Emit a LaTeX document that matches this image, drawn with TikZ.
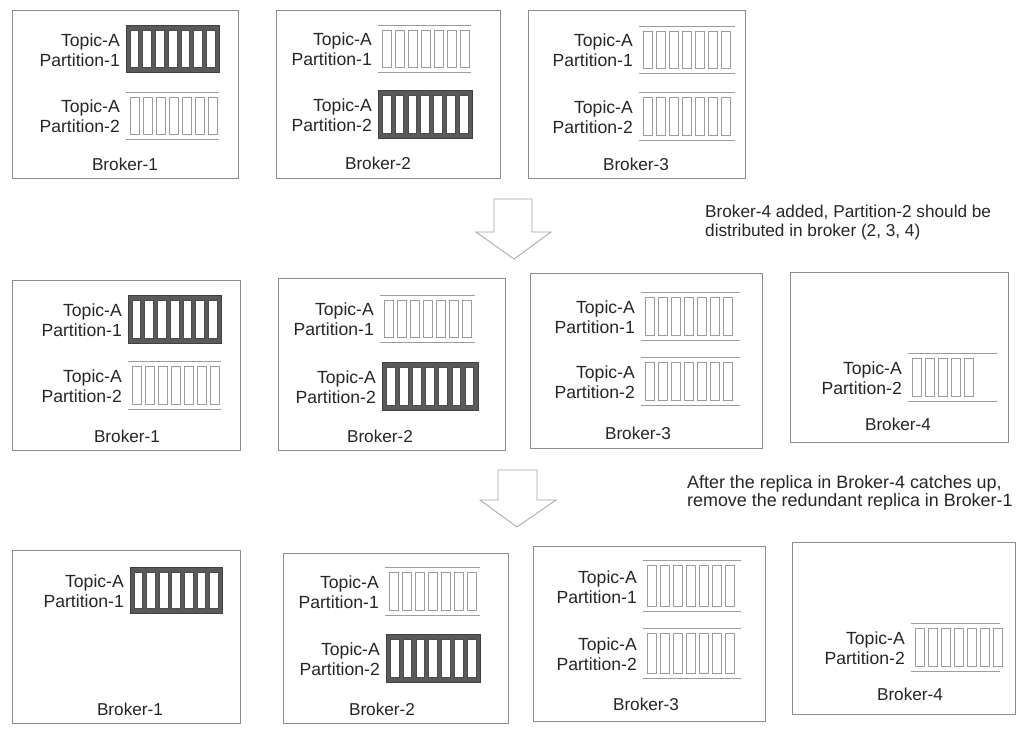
\documentclass[tikz,border=0pt]{standalone}
\usepackage{fontspec}
\setmainfont{Liberation Sans}
\usetikzlibrary{calc}
\definecolor{frame}{HTML}{8C8C8C}
\definecolor{lead}{HTML}{5A5A5A}
\definecolor{foll}{HTML}{9C9C9C}
\definecolor{ink}{HTML}{262626}
\tikzset{
 broker/.style={draw=frame, line width=0.9pt, fill=white, anchor=north west, inner sep=0pt},
 lbl/.style={font=\fontsize{17.6}{20}\selectfont, text=ink, align=right, anchor=east, inner sep=0pt},
 blabel/.style={font=\fontsize{17.2}{20}\selectfont, text=ink, inner sep=0pt},
 leaderbox/.style={fill=lead, draw=black!75, line width=0.6pt, anchor=north west, inner sep=0pt},
 cellL/.style={fill=white, draw=black!70, line width=0.5pt},
 follbox/.style={anchor=north west, inner sep=0pt},
 cellF/.style={draw=foll, line width=0.6pt},
 rule/.style={draw=foll, line width=0.7pt},
 note/.style={text=ink, align=left, anchor=north west, inner sep=0pt},
 bigarrow/.style={draw=frame!80, line width=0.8pt, fill=white},
}
\newcommand\Leader[5]{%
 \node[leaderbox, minimum width=#4pt, minimum height=#5pt] (#1) at (#2,#3) {};
 \pgfmathsetmacro\gp{(#4-7*8.8)/8}
 \foreach \i in {0,...,6} {\draw[cellL] ($(#1.north west)+({\gp+\i*(8.8+\gp)},5)$) rectangle ++(8.8,#5-10);}
}
\newcommand\Follower[6]{%
 \node[follbox, minimum width=#4pt, minimum height=#5pt] (#1) at (#2,#3) {};
 \draw[rule] (#1.north west) -- (#1.north east);
 \draw[rule] (#1.south west) -- (#1.south east);
 \foreach \i in {1,...,#6} {\draw[cellF] ($(#1.north west)+({4+(\i-1)*13},5)$) rectangle ++(9.5,#5-10);}
}
\newcommand\PLabel[2]{%
 \node[lbl] (#1t) at ($(#1.west)+(-6,1)$) {Topic-A\\Partition-#2};
}
\begin{document}
\begin{tikzpicture}[x=1pt,y=-1pt]
\useasboundingbox (0,0) rectangle (1024,731);
% ---------- Row 1
\node[broker, minimum width=226pt, minimum height=168pt] (r1b1) at (12,10) {};
\Leader{r1b1p1}{126}{25}{93}{47}\PLabel{r1b1p1}{1}
\Follower{r1b1p2}{126}{92}{93}{47}{7}\PLabel{r1b1p2}{2}
\node[blabel] (r1b1l) at (125,164) {Broker-1};

\node[broker, minimum width=224pt, minimum height=168pt] (r1b2) at (276,10) {};
\Follower{r1b2p1}{378}{25}{93}{47}{7}\PLabel{r1b2p1}{1}
\Leader{r1b2p2}{378}{90}{94}{48}\PLabel{r1b2p2}{2}
\node[blabel] (r1b2l) at (378,163) {Broker-2};

\node[broker, minimum width=217pt, minimum height=168pt] (r1b3) at (528,10) {};
\Follower{r1b3p1}{639}{26}{96}{47}{7}\PLabel{r1b3p1}{1}
\Follower{r1b3p2}{639}{92}{96}{48}{7}\PLabel{r1b3p2}{2}
\node[blabel] (r1b3l) at (636,164) {Broker-3};

% ---------- Arrow 1 and note
\draw[bigarrow] (494,199) -- (532,199) -- (532,232) -- (551,232) -- (514,259) -- (476,232) -- (494,232) -- cycle;
\node[note, font=\fontsize{17.2}{18.5}\selectfont] (n1) at (705,205) {Broker-4 added, Partition-2 should be\\distributed in broker (2, 3, 4)};

% ---------- Row 2
\node[broker, minimum width=228pt, minimum height=170pt] (r2b1) at (12,280) {};
\Leader{r2b1p1}{128}{295}{93}{48}\PLabel{r2b1p1}{1}
\Follower{r2b1p2}{128}{361}{93}{48}{7}\PLabel{r2b1p2}{2}
\node[blabel] (r2b1l) at (127,436) {Broker-1};

\node[broker, minimum width=227pt, minimum height=172pt] (r2b2) at (278,278) {};
\Follower{r2b2p1}{380}{295}{95}{47}{7}\PLabel{r2b2p1}{1}
\Leader{r2b2p2}{382}{362}{96}{48}\PLabel{r2b2p2}{2}
\node[blabel] (r2b2l) at (380,436) {Broker-2};

\node[broker, minimum width=232pt, minimum height=175pt] (r2b3) at (530,273) {};
\Follower{r2b3p1}{641}{292}{99}{48}{7}\PLabel{r2b3p1}{1}
\Follower{r2b3p2}{641}{357}{99}{48}{7}\PLabel{r2b3p2}{2}
\node[blabel] (r2b3l) at (638,433) {Broker-3};

\node[broker, minimum width=218pt, minimum height=170pt] (r2b4) at (790,272) {};
\Follower{r2b4p2}{908}{353}{89}{48}{5}\PLabel{r2b4p2}{2}
\node[blabel] (r2b4l) at (898,424) {Broker-4};

% ---------- Arrow 2 and note
\draw[bigarrow] (498,470) -- (537,470) -- (537,500) -- (556,500) -- (517,527) -- (480,500) -- (498,500) -- cycle;
\node[note, font=\fontsize{17.9}{18}\selectfont] (n2) at (687,475) {After the replica in Broker-4 catches up,\\remove the redundant replica in Broker-1};

% ---------- Row 3
\node[broker, minimum width=228pt, minimum height=173pt] (r3b1) at (12,550) {};
\Leader{r3b1p1}{130}{567}{92}{46}\PLabel{r3b1p1}{1}
\node[blabel] (r3b1l) at (130,709) {Broker-1};

\node[broker, minimum width=225pt, minimum height=170pt] (r3b2) at (283,553) {};
\Follower{r3b2p1}{385}{567}{95}{48}{7}\PLabel{r3b2p1}{1}
\Leader{r3b2p2}{386}{634}{94}{48}\PLabel{r3b2p2}{2}
\node[blabel] (r3b2l) at (382,709) {Broker-2};

\node[broker, minimum width=232pt, minimum height=175pt] (r3b3) at (533,546) {};
\Follower{r3b3p1}{643}{560}{98}{51}{7}\PLabel{r3b3p1}{1}
\Follower{r3b3p2}{643}{628}{98}{50}{7}\PLabel{r3b3p2}{2}
\node[blabel] (r3b3l) at (646,704) {Broker-3};

\node[broker, minimum width=223pt, minimum height=172pt] (r3b4) at (792,542) {};
\Follower{r3b4p2}{911}{623}{89}{48}{7}\PLabel{r3b4p2}{2}
\node[blabel] (r3b4l) at (910,694) {Broker-4};
\end{tikzpicture}
\end{document}
